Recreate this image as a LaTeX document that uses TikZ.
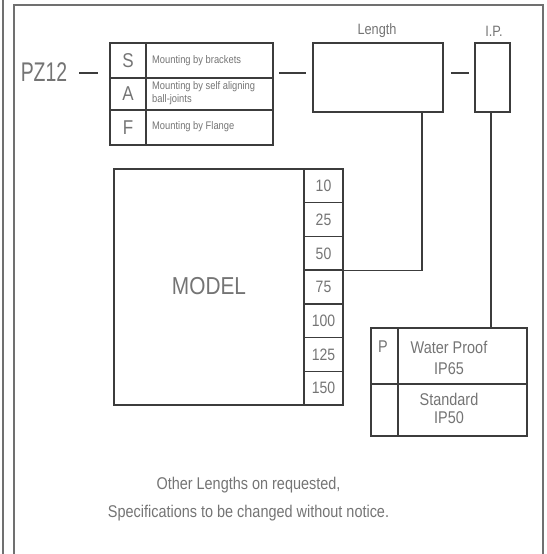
\documentclass[tikz,border=0pt]{standalone}
\usepackage{fontspec}
\setmainfont[FakeStretch=0.85]{Liberation Sans}
\newfontfamily\narrowfont[FakeStretch=0.72]{Liberation Sans}
\usetikzlibrary{calc}
\definecolor{tc}{HTML}{747474}
\definecolor{lc}{HTML}{3C3C3C}
\definecolor{fc}{HTML}{707070}
\newcommand{\fs}[1]{\fontsize{#1}{#1}\selectfont}
\begin{document}
\begin{tikzpicture}[x=1pt,y=-1pt,
  box/.style={draw=lc, line width=1.5pt, inner sep=0pt, rectangle},
  grid/.style={draw=lc, line width=1.5pt},
  txt/.style={text=tc, inner sep=0pt},
  conn/.style={draw=lc, line width=1.5pt}]
\useasboundingbox (0,0) rectangle (546,554);
% frame
\draw[fc, line width=1.2pt] (3,0) -- (3,554);
\draw[fc, line width=1.2pt] (14,554) -- (14,5) -- (543,5) -- (543,554);

% PZ12
\node[txt, font=\narrowfont\fs{27}] (pz) at (44,72) {PZ12};

% mounting box
\node[box, minimum width=163pt, minimum height=102pt] (mount) at (191.5,94) {};
\draw[grid] (146,43) -- (146,145);
\draw[grid] (110,78) -- (273,78);
\draw[grid] (110,110) -- (273,110);
\node[txt, font=\fs{20}] (ms) at (128,61) {S};
\node[txt, font=\fs{20}] (ma) at (128,94) {A};
\node[txt, font=\fs{20}] (mf) at (128,128) {F};
\node[txt, anchor=west, font=\fs{11}] (t1) at (152,61) {Mounting by brackets};
\node[txt, anchor=west, font=\fs{11}] (t2a) at (152,87) {Mounting by self aligning};
\node[txt, anchor=west, font=\fs{11}] (t2b) at (152,100) {ball-joints};
\node[txt, anchor=west, font=\fs{11}] (t3) at (152,127) {Mounting by Flange};

% length box
\node[box, minimum width=130pt, minimum height=69pt] (lenbox) at (378,77.5) {};
\node[txt, font=\fs{15}] (lenlab) at (377,31) {Length};
% IP box
\node[box, minimum width=35pt, minimum height=69pt] (ipbox) at (492.5,77.5) {};
\node[txt, font=\fs{15}] (iplab) at (494,31) {I.P.};

% dashes
\draw[conn, shorten <=12pt, shorten >=11pt] (pz.east |- 0,73) -- (mount.west |- 0,73);
\draw[conn, shorten <=5pt, shorten >=6pt] (mount.east |- 0,73) -- (lenbox.west |- 0,73);
\draw[conn, shorten <=7pt, shorten >=5pt] (lenbox.east |- 0,73) -- (ipbox.west |- 0,73);

% model table
\node[box, minimum width=229pt, minimum height=236pt] (model) at (228.5,287) {};
\draw[grid] (304,169) -- (304,405);
\foreach \i in {1,...,6} {
  \draw[grid] (304,{169+33.714*\i}) -- (343,{169+33.714*\i});
}
\foreach \v [count=\i from 0] in {10,25,50,75,100,125,150} {
  \node[txt, font=\fs{16.5}] (n\v) at (323.5,{169+33.714*\i+16.9}) {\v};
}
\node[txt, font=\fs{24.5}] (modeltxt) at (209,286) {MODEL};

% length connector
\coordinate (m50) at (343,270.4);
\draw[conn] ([xshift=-22pt]lenbox.south east) |- (m50);

% P table
\node[box, minimum width=156pt, minimum height=108pt] (ptab) at (449,382) {};
\draw[grid] (398,328) -- (398,436);
\draw[grid] (371,384) -- (527,384);
\node[txt, font=\fs{17}] (pp) at (383,347) {P};
\node[txt, font=\fs{17}] (wp) at (449,347) {Water Proof};
\node[txt, font=\fs{17}] (ip65) at (449,369) {IP65};
\node[txt, font=\fs{17}] (std) at (449,399) {Standard};
\node[txt, font=\fs{17}] (ip50) at (449,418) {IP50};

% IP connector
\draw[conn] ([xshift=-1.5pt]ipbox.south) -- ([xshift=-1.5pt]ipbox.south |- ptab.north);

% notes
\node[txt, font=\fs{17}] (note1) at (248.5,485) {Other Lengths on requested,};
\node[txt, font=\fs{17}] (note2) at (248.5,513) {Specifications to be changed without notice.};
\end{tikzpicture}
\end{document}
